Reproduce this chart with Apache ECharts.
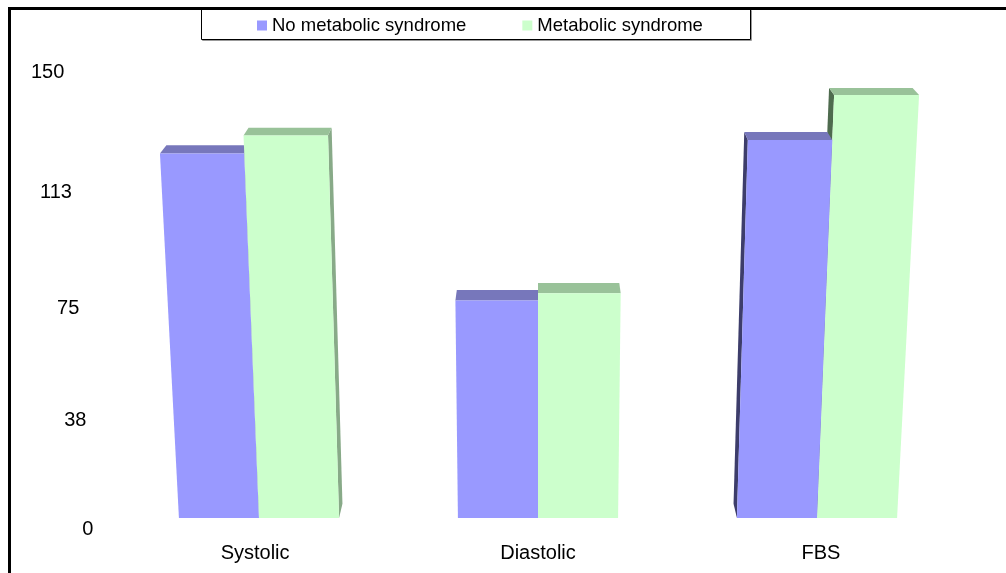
<!DOCTYPE html>
<html>
<head>
<meta charset="utf-8">
<title>Blood pressure and FBS by metabolic syndrome status</title>
<script src="https://cdn.jsdelivr.net/npm/echarts@6/dist/echarts.min.js"></script>
<style>
  html, body { margin: 0; padding: 0; background: #fff; }
  #chart { width: 1006px; height: 573px; }
</style>
</head>
<body>
<div id="chart"></div>
<script>
// ---- data ----
const CATEGORIES = ['Systolic', 'Diastolic', 'FBS'];
const SERIES_NAMES = ['No metabolic syndrome', 'Metabolic syndrome'];
const NO_METS = [122.7, 74.7, 127];
const METS = [128.4, 77.1, 141.2];
const TICK_VALUES = [0, 37.5, 75, 112.5, 150];
const TICK_LABELS = ['0', '38', '75', '113', '150'];

// ---- look ----
const FONT = '"Liberation Sans", Arial, sans-serif';
const SHADES = [
  { front: '#9999FF', top: '#7777BB', right: '#6666AA', left: '#3D3D6B' },
  { front: '#CCFFCC', top: '#99C299', right: '#88AA88', left: '#4E6B4E' }
];
const BAR_FRAC = 0.287;      // share of the category band taken by each bar
const KEYSTONE_DIST = 6900;  // distance below the floor where verticals meet
const DEPTH_VP_OFFSET = 838; // depth vanishing point sits this far above the floor
const DEPTH = 0.017;         // bar depth as a fraction toward the depth vanishing point
const FLOOR_FWD = 0.014;     // how far axis labels sit in front of the bars

// Perspective helpers: the camera looks down on the chart, so verticals meet
// far below the floor and depth recedes toward a point above the plot.
function view(api) {
  const first = api.coord([0, 0]);
  const last = api.coord([CATEGORIES.length - 1, 0]);
  const yTop = api.coord([0, 150])[1];
  const cx = (first[0] + last[0]) / 2;
  const y0 = first[1];
  const vd = y0 + KEYSTONE_DIST;
  const vy = y0 - DEPTH_VP_OFFSET;
  const hFull = y0 - yTop;
  const q = 1 - KEYSTONE_DIST / (KEYSTONE_DIST + hFull); // keeps both axis ends fixed
  return {
    cx, y0,
    // linear axis pixel -> foreshortened pixel
    vert(yLin) { return vd - KEYSTONE_DIST / (1 - q * (y0 - yLin) / hFull); },
    key(x, y) { return [cx + (x - cx) * (vd - y) / (vd - y0), y]; },
    back(p, t) { return [p[0] + (cx - p[0]) * t, p[1] + (vy - p[1]) * t]; },
    fwd(p, s) { return [p[0] - (cx - p[0]) * s, p[1] - (vy - p[1]) * s]; }
  };
}

function barRenderer(idx) {
  const c = SHADES[idx];
  return function (params, api) {
    const v = view(api);
    const cat = api.value(0);
    const base = api.coord([cat, 0]);
    const top = api.coord([cat, api.value(1)]);
    const w = api.size([1, 0])[0] * BAR_FRAC;
    const xl = idx === 0 ? base[0] - w : base[0];
    const xr = xl + w;
    const yb = base[1], yt = v.vert(top[1]);
    const FBL = v.key(xl, yb), FBR = v.key(xr, yb);
    const FTL = v.key(xl, yt), FTR = v.key(xr, yt);
    const z2 = 1000 - Math.round(Math.abs((xl + xr) / 2 - v.cx));
    const children = [];
    if (xr <= v.cx + 0.5) {
      children.push({ type: 'polygon', z2,
        shape: { points: [FBR, FTR, v.back(FTR, DEPTH), v.back(FBR, DEPTH)] },
        style: { fill: c.right } });
    }
    if (xl >= v.cx - 0.5) {
      children.push({ type: 'polygon', z2,
        shape: { points: [FBL, FTL, v.back(FTL, DEPTH), v.back(FBL, DEPTH)] },
        style: { fill: c.left } });
    }
    children.push({ type: 'polygon', z2,
      shape: { points: [FTL, FTR, v.back(FTR, DEPTH), v.back(FTL, DEPTH)] },
      style: { fill: c.top } });
    children.push({ type: 'polygon', z2: z2 + 1,
      shape: { points: [FBL, FBR, FTR, FTL] },
      style: { fill: c.front } });
    return { type: 'group', children };
  };
}

function valueLabelRenderer(params, api) {
  const v = view(api);
  const y = v.vert(api.coord([0, api.value(1)])[1]);
  const gridLeft = api.coord([0, 0])[0] - api.size([1, 0])[0] / 2;
  const p = v.fwd(v.key(gridLeft - 20, y), FLOOR_FWD);
  return {
    type: 'text',
    style: {
      text: TICK_LABELS[api.value(2)], x: p[0], y: p[1],
      fill: '#000', fontSize: 20, fontFamily: FONT,
      align: 'right', verticalAlign: 'middle'
    }
  };
}

function categoryLabelRenderer(params, api) {
  const v = view(api);
  const base = api.coord([api.value(0), 0]);
  const p = v.fwd(v.key(base[0], base[1]), FLOOR_FWD);
  return {
    type: 'text',
    style: {
      text: CATEGORIES[api.value(0)], x: p[0], y: p[1] + 24,
      fill: '#000', fontSize: 20, fontFamily: FONT,
      align: 'center', verticalAlign: 'middle'
    }
  };
}

const chart = echarts.init(document.getElementById('chart'), null, { renderer: 'canvas' });

chart.setOption({
  animation: false,
  backgroundColor: '#fff',
  grid: { left: 119.5, right: 49.5, top: 67, bottom: 55 },
  xAxis: { type: 'category', data: CATEGORIES, show: false },
  yAxis: { type: 'value', min: 0, max: 150, interval: 37.5, show: false },
  legend: {
    data: SERIES_NAMES,
    selectedMode: false,
    icon: 'rect',
    itemWidth: 10,
    itemHeight: 10,
    itemGap: 56,
    left: 257,
    top: 16,
    padding: 0,
    textStyle: { color: '#000', fontSize: 18.5, fontFamily: FONT }
  },
  graphic: [
    { type: 'rect', z: 0, shape: { x: 202.5, y: 10.5, width: 549, height: 30 },
      style: { fill: 'none', stroke: '#999', lineWidth: 1 } },
    { type: 'rect', z: 1, shape: { x: 201.5, y: 9.5, width: 549, height: 30 },
      style: { fill: '#fff', stroke: '#000', lineWidth: 1 } },
    { type: 'rect', z: 10, shape: { x: 9.5, y: 8.5, width: 1100, height: 700 },
      style: { fill: 'none', stroke: '#000', lineWidth: 3 } }
  ],
  series: [
    {
      name: SERIES_NAMES[0], type: 'custom',
      itemStyle: { color: SHADES[0].front },
      renderItem: barRenderer(0),
      data: NO_METS.map((val, i) => [i, val])
    },
    {
      name: SERIES_NAMES[1], type: 'custom',
      itemStyle: { color: SHADES[1].front },
      renderItem: barRenderer(1),
      data: METS.map((val, i) => [i, val])
    },
    {
      name: 'value-axis', type: 'custom', silent: true,
      renderItem: valueLabelRenderer,
      data: TICK_VALUES.map((val, i) => [0, val, i])
    },
    {
      name: 'category-axis', type: 'custom', silent: true,
      renderItem: categoryLabelRenderer,
      data: CATEGORIES.map((c, i) => [i, 0])
    }
  ]
});
</script>
</body>
</html>
